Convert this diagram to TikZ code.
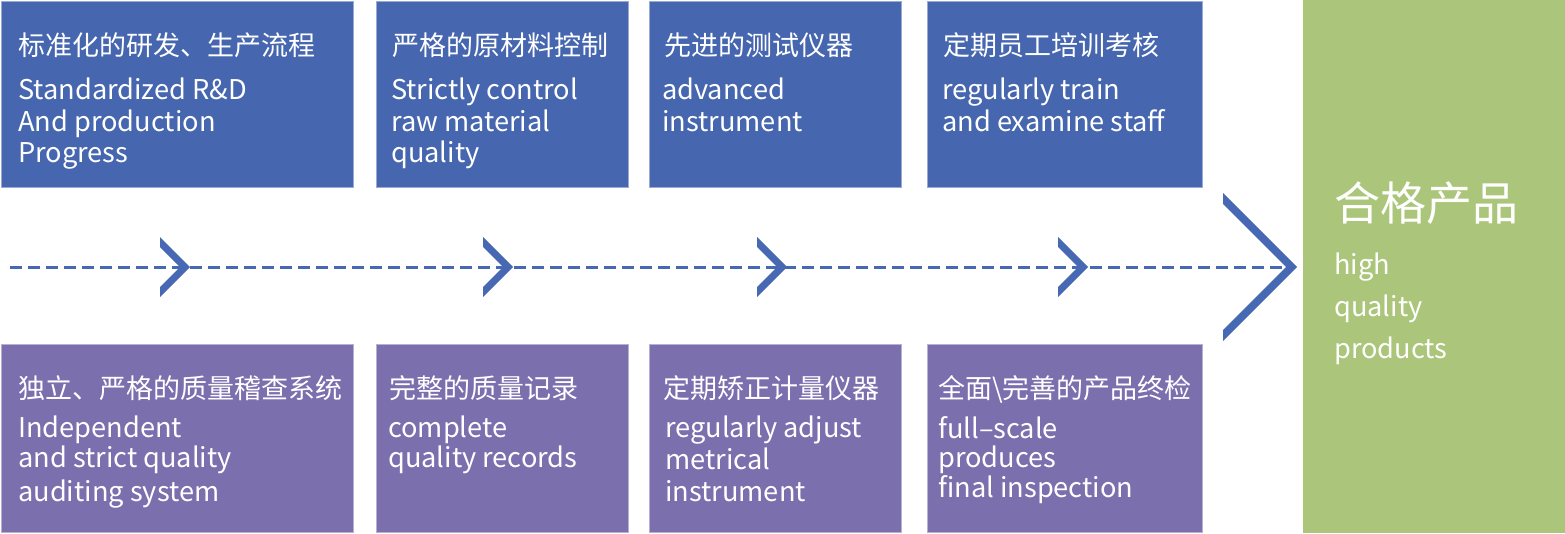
\documentclass[tikz,border=0pt]{standalone}
\usepackage{fontspec}
\setmainfont{Noto Sans CJK SC}
\definecolor{boxblue}{HTML}{4666AF}
\definecolor{boxpurple}{HTML}{7B6FAE}
\definecolor{boxgreen}{HTML}{ABC67A}
\definecolor{lineblue}{HTML}{4768B2}
\begin{document}
\begin{tikzpicture}[x=1pt,y=-1pt,
  box/.style={draw=#1!55!white,line width=1pt,fill=#1,inner sep=0pt,anchor=north west},
  cn/.style={anchor=base west,inner sep=0pt,text=white,font=\fontsize{27}{27}\selectfont},
  en/.style={anchor=base west,inner sep=0pt,text=white,font=\fontsize{27.2}{27.2}\selectfont},
  chev/.style={fill=lineblue,draw=none},
  flow/.style={draw=lineblue,line width=3pt,dash pattern=on 12pt off 6pt}]
\useasboundingbox (0,0) rectangle (1565,533);
% top boxes
\node[box=boxblue,minimum width=352pt,minimum height=186pt] (b1) at (1,1) {};
\node[box=boxblue,minimum width=252pt,minimum height=186pt] (b2) at (376,1) {};
\node[box=boxblue,minimum width=252pt,minimum height=186pt] (b3) at (649,1) {};
\node[box=boxblue,minimum width=275pt,minimum height=186pt] (b4) at (927,1) {};
% bottom boxes
\node[box=boxpurple,minimum width=352pt,minimum height=188pt] (b5) at (1,344) {};
\node[box=boxpurple,minimum width=252pt,minimum height=188pt] (b6) at (376,344) {};
\node[box=boxpurple,minimum width=252pt,minimum height=188pt] (b7) at (649,344) {};
\node[box=boxpurple,minimum width=275pt,minimum height=188pt] (b8) at (927,344) {};
% result box
\node[fill=boxgreen,inner sep=0pt,anchor=north west,minimum width=262pt,minimum height=533pt] (g) at (1303,0) {};
% texts top
\node[cn] (t1c) at (18,55) {标准化的研发、生产流程};
\node[en] (t1a) at (18,99) {Standardized R\&D};
\node[en] (t1b) at (18,131) {And production};
\node[en] (t1d) at (18,162) {Progress};
\node[cn] (t2c) at (392,55) {严格的原材料控制};
\node[en] (t2a) at (391,99) {Strictly control};
\node[en] (t2b) at (391,131) {raw material};
\node[en] (t2d) at (391,162) {quality};
\node[cn] (t3c) at (664,55) {先进的测试仪器};
\node[en] (t3a) at (662,99) {advanced};
\node[en] (t3b) at (662,131) {instrument};
\node[cn] (t4c) at (943,55) {定期员工培训考核};
\node[en] (t4a) at (942,99) {regularly train};
\node[en] (t4b) at (942,131) {and examine staff};
% texts bottom
\node[cn] (t5c) at (18,398) {独立、严格的质量稽查系统};
\node[en] (t5a) at (18,437) {Independent};
\node[en] (t5b) at (18,467) {and strict quality};
\node[en] (t5d) at (18,501) {auditing system};
\node[cn] (t6c) at (389,398) {完整的质量记录};
\node[en] (t6a) at (388,437) {complete};
\node[en] (t6b) at (388,467) {quality records};
\node[cn] (t7c) at (663,398) {定期矫正计量仪器};
\node[en] (t7a) at (665,437) {regularly adjust};
\node[en] (t7b) at (665,469) {metrical};
\node[en] (t7d) at (665,501) {instrument};
\node[cn] (t8c) at (938,398) {全面\textbackslash 完善的产品终检};
\node[en] (t8a) at (938,438) {full–scale};
\node[en] (t8b) at (938,467) {produces};
\node[en] (t8d) at (938,497) {final inspection};
% result texts
\node[anchor=base west,inner sep=0pt,text=white,font=\fontsize{46}{46}\selectfont] (gc) at (1334,220) {合格产品};
\node[en] (ga) at (1334,274) {high};
\node[en] (gb) at (1334,316) {quality};
\node[en] (gd) at (1334,358) {products};
% flow line
\coordinate (start) at (10,267);
\coordinate (finish) at (1290,267);
\draw[flow] (start) -- (finish);
% chevrons
\foreach \cx/\nm in {160/c1,483/c2,757/c3,1058/c4}{
  \fill[chev] (\cx,237) -- ++(30,30) -- ++(-30,30) -- ++(0,-10) -- ++(20,-20) -- ++(-20,-20) -- cycle;
}
\fill[chev] (1223,193) -- (1297,267) -- (1223,341) -- (1223,330) -- (1286,267) -- (1223,204) -- cycle;
\end{tikzpicture}
\end{document}
